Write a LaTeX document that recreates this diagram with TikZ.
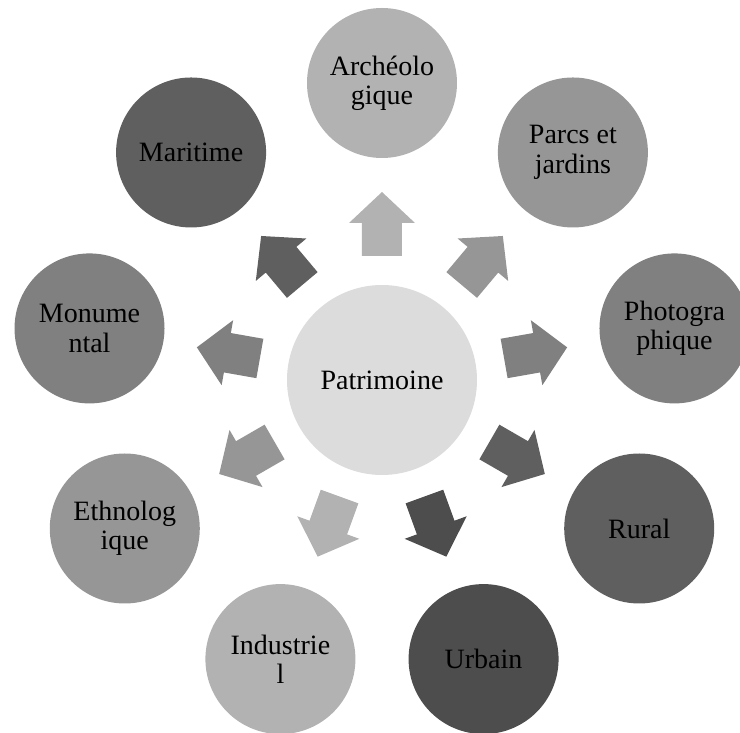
\documentclass[tikz,border=0pt]{standalone}
\usepackage{fontspec}
\setmainfont{Liberation Serif}
\usepackage{tikz}

\definecolor{grisclair}{HTML}{DCDCDC}
\definecolor{grisB}{HTML}{B2B2B2}
\definecolor{grisC}{HTML}{969696}
\definecolor{grisD}{HTML}{808080}
\definecolor{grisE}{HTML}{5F5F5F}
\definecolor{grisF}{HTML}{4D4D4D}

\begin{document}
\begin{tikzpicture}[x=0.5pt, y=0.5pt,
    bulle/.style={circle, draw=none, inner sep=0pt, minimum size=75pt, align=center,
        font=\fontsize{14}{14.7}\selectfont},
    coeur/.style={bulle, minimum size=95pt, fill=grisclair}]
    \useasboundingbox (-382,-353) rectangle (358,380);
    \node[coeur] (pat) at (0,0) {Patrimoine};
    % cercles autour
    \node[bulle, fill=grisB] (arch)  at (90:297)   {Archéolo\\gique};
    \node[bulle, fill=grisC] (parcs) at (50:297)   {Parcs et\\jardins};
    \node[bulle, fill=grisD] (photo) at (10:297)   {Photogra\\phique};
    \node[bulle, fill=grisE] (rural) at (-30:297)  {Rural};
    \node[bulle, fill=grisF] (urb)   at (-70:297)  {Urbain};
    \node[bulle, fill=grisB] (indus) at (-110:297) {Industrie\\l};
    \node[bulle, fill=grisC] (ethno) at (-150:297) {Ethnolog\\ique};
    \node[bulle, fill=grisD] (monu)  at (170:297)  {Monume\\ntal};
    \node[bulle, fill=grisE] (mari)  at (130:297)  {Maritime};
    % fleches
    \foreach \ang/\col in {90/grisB, 50/grisC, 10/grisD, -30/grisE, -70/grisF,
                           -110/grisB, -150/grisC, 170/grisD, 130/grisE}
        \fill[\col, shift={(pat.center)}, rotate=\ang]
            (124,-20) -- (157,-20) -- (157,-33) -- (188,0)
            -- (157,33) -- (157,20) -- (124,20) -- cycle;
\end{tikzpicture}
\end{document}
